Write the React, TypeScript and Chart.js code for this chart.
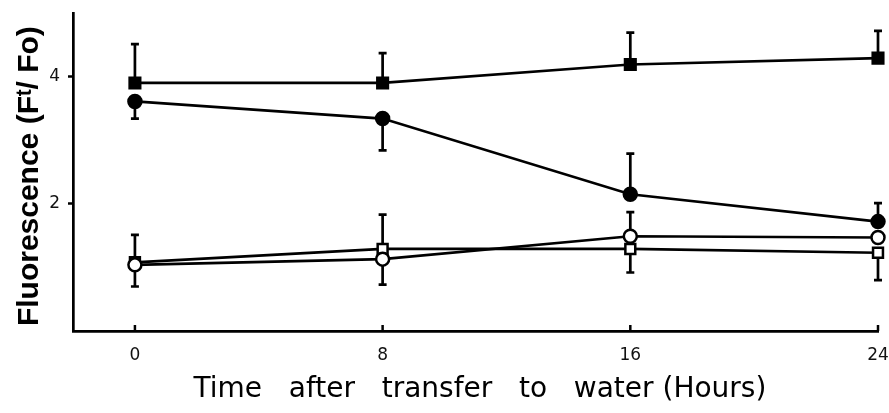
import { useEffect, useRef } from "react";
import { Chart, registerables } from "chart.js";

Chart.register(...registerables);

// ---- data ----
const hours = [0, 8, 16, 24];
const xTickValues = [0, 8, 16, 24];
const yTickValues = [2, 4];

const filledSquare = [3.9, 3.9, 4.19, 4.29];
const filledSquareUpper = [4.51, 4.37, 4.69, 4.72];
const filledSquareLower = [null, null, null, null];

const filledCircle = [3.61, 3.34, 2.15, 1.72];
const filledCircleUpper = [null, null, 2.79, 2.01];
const filledCircleLower = [3.34, 2.84, null, null];

const openCircle = [1.04, 1.13, 1.49, 1.47];
const openCircleUpper = [null, null, 1.87, null];
const openCircleLower = [0.7, 0.73, null, null];

const openSquare = [1.08, 1.29, 1.29, 1.23];
const openSquareUpper = [1.51, 1.83, null, null];
const openSquareLower = [null, null, 0.92, 0.8];

const xTitle = " Time   after   transfer   to   water (Hours)";
const yTitle = "Fluorescence (Fᵗ/ Fo) ";

const toPoints = (vals: number[]) => hours.map((h, i) => ({ x: h, y: vals[i] }));

const errorBarPlugin = {
  id: "errorBars",
  beforeDatasetsDraw(chart: any) {
    const { ctx, scales } = chart;
    const xs = scales.x;
    const ys = scales.y;
    ctx.save();
    ctx.strokeStyle = "#000";
    ctx.lineWidth = 2.7;
    chart.data.datasets.forEach((ds: any) => {
      ds.data.forEach((p: any, i: number) => {
        const px = xs.getPixelForValue(p.x);
        const py = ys.getPixelForValue(p.y);
        [ds.errUpper?.[i], ds.errLower?.[i]].forEach((e: any) => {
          if (e === null || e === undefined) return;
          const ey = ys.getPixelForValue(e);
          ctx.beginPath();
          ctx.moveTo(px, py);
          ctx.lineTo(px, ey);
          ctx.moveTo(px - 4, ey);
          ctx.lineTo(px + 4, ey);
          ctx.stroke();
        });
      });
    });
    ctx.restore();
  },
  afterDraw(chart: any) {
    const { ctx, scales, chartArea } = chart;
    const xs = scales.x;
    ctx.save();
    ctx.strokeStyle = "#000";
    ctx.lineWidth = 2.5;
    xs.ticks.forEach((t: any) => {
      const px = xs.getPixelForValue(t.value);
      ctx.beginPath();
      ctx.moveTo(px, chartArea.bottom);
      ctx.lineTo(px, chartArea.bottom - 6);
      ctx.stroke();
    });
    ctx.restore();
  },
};

const tickFont = "'DejaVu Sans', sans-serif";

export default function App() {
  const ref = useRef<HTMLCanvasElement | null>(null);

  useEffect(() => {
    if (!ref.current) return;
    const common = {
      borderColor: "#000",
      borderWidth: 2.7,
      pointBorderColor: "#000",
      pointBorderWidth: 2.5,
      tension: 0,
      clip: false as any,
    };
    const chart = new Chart(ref.current, {
      type: "line",
      data: {
        datasets: [
          {
            ...common,
            label: "filled square",
            data: toPoints(filledSquare),
            errUpper: filledSquareUpper,
            errLower: filledSquareLower,
            pointStyle: "rect",
            pointRadius: 7.5,
            pointBackgroundColor: "#000",
          } as any,
          {
            ...common,
            label: "filled circle",
            data: toPoints(filledCircle),
            errUpper: filledCircleUpper,
            errLower: filledCircleLower,
            pointStyle: "circle",
            pointRadius: 6.5,
            pointBackgroundColor: "#000",
          } as any,
          {
            ...common,
            label: "open circle",
            data: toPoints(openCircle),
            errUpper: openCircleUpper,
            errLower: openCircleLower,
            pointStyle: "circle",
            pointRadius: 6.5,
            pointBackgroundColor: "#fff",
          } as any,
          {
            ...common,
            label: "open square",
            data: toPoints(openSquare),
            errUpper: openSquareUpper,
            errLower: openSquareLower,
            pointStyle: "rect",
            pointRadius: 7,
            pointBackgroundColor: "#fff",
          } as any,
        ],
      },
      options: {
        animation: false,
        responsive: false,
        maintainAspectRatio: false,
        layout: { padding: { top: 13, right: 11, left: 0, bottom: 0 } },
        plugins: {
          legend: { display: false },
          tooltip: { enabled: false },
        },
        scales: {
          x: {
            type: "linear",
            min: -2,
            max: 24,
            afterBuildTicks: (s: any) => {
              s.ticks = xTickValues.map((v) => ({ value: v }));
            },
            afterFit: (s: any) => {
              s.height = 82;
              s.paddingLeft = 0;
              s.paddingRight = 0;
            },
            grid: { drawOnChartArea: false, drawTicks: false },
            border: { display: true, color: "#000", width: 2.7 },
            ticks: {
              color: "#111",
              padding: 14,
              font: { family: tickFont, size: 17 },
              callback: (v: any) => String(v),
            },
            title: {
              display: true,
              text: xTitle,
              color: "#000",
              font: { family: "'DejaVu Sans', sans-serif", size: 28 },
              padding: { top: 0, bottom: 6 },
            },
          },
          y: {
            type: "linear",
            min: 0,
            max: 5,
            afterBuildTicks: (s: any) => {
              s.ticks = yTickValues.map((v) => ({ value: v }));
            },
            afterFit: (s: any) => {
              s.width = 73;
              s.paddingTop = 0;
              s.paddingBottom = 0;
            },
            grid: {
              drawOnChartArea: false,
              drawTicks: true,
              tickLength: 5,
              tickWidth: 2.5,
              tickColor: "#000",
            },
            border: { display: true, color: "#000", width: 2.7 },
            ticks: {
              color: "#111",
              padding: 8,
              font: { family: tickFont, size: 17 },
              callback: (v: any) => String(v),
            },
            title: {
              display: true,
              text: yTitle,
              color: "#000",
              font: { family: "'Liberation Sans', Arial, sans-serif", size: 30, weight: "bold" },
              padding: { top: 12, bottom: 12 },
            },
          },
        },
      },
      plugins: [errorBarPlugin],
    } as any);
    return () => chart.destroy();
  }, []);

  return (
    <div style={{ position: "absolute", left: 0, top: 0, width: 889, height: 413, background: "#fff" }}>
      <canvas ref={ref} width={889} height={413} style={{ display: "block" }} />
    </div>
  );
}
